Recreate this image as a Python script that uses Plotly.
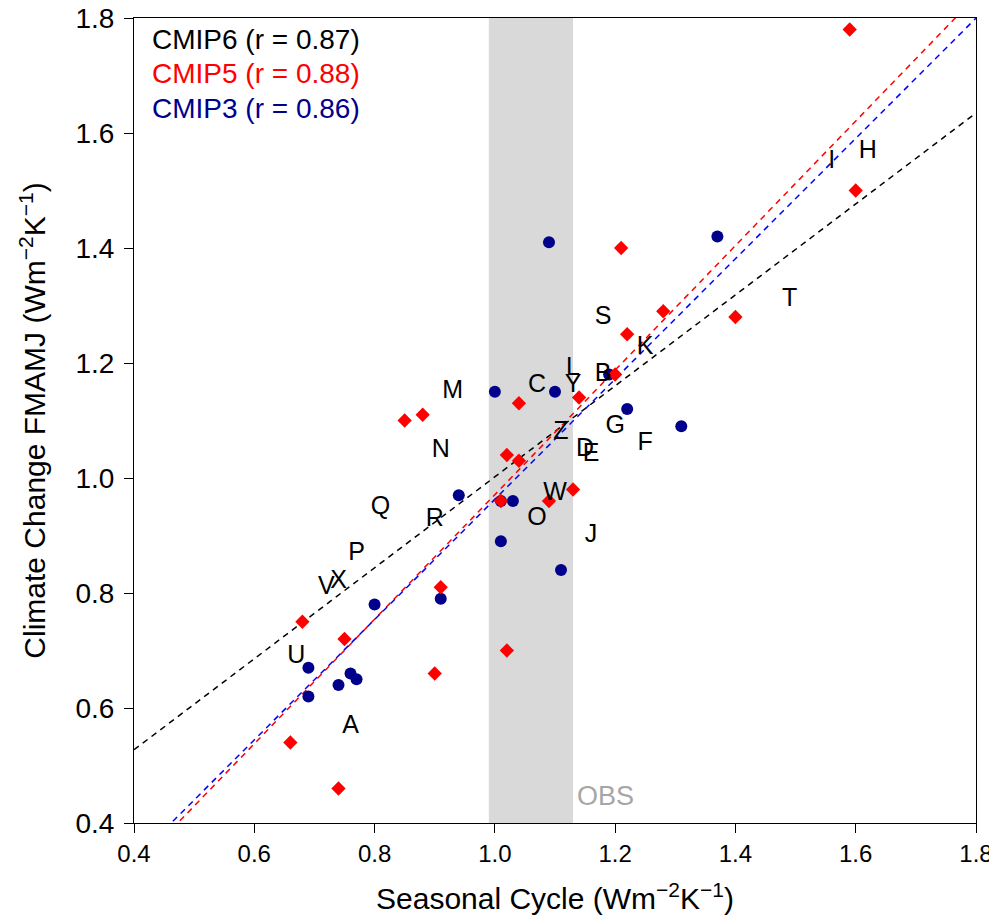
import plotly.graph_objects as go

# ---- data ----
cmip6_labels = list("ABCDEFGHIJKLMNOPQRSTUVWXYZ")
cmip6_x = [0.76, 1.18, 1.07, 1.15, 1.16, 1.25, 1.20, 1.62, 1.56, 1.16, 1.25, 1.13, 0.93,
           0.91, 1.07, 0.77, 0.81, 0.90, 1.18, 1.49, 0.67, 0.72, 1.10, 0.74, 1.13, 1.11]
cmip6_y = [0.567, 1.18, 1.16, 1.05, 1.04, 1.06, 1.09, 1.567, 1.55, 0.899, 1.226, 1.19, 1.15,
           1.048, 0.93, 0.868, 0.948, 0.928, 1.278, 1.31, 0.689, 0.809, 0.972, 0.819, 1.16, 1.078]

cmip5_x = [1.59, 1.60, 1.21, 1.28, 1.40, 1.22, 1.20, 1.14, 1.04, 0.85, 0.88, 1.02, 1.04,
           1.13, 1.09, 1.01, 0.91, 0.68, 0.75, 0.90, 1.02, 0.66, 0.74]
cmip5_y = [1.78, 1.50, 1.40, 1.29, 1.28, 1.25, 1.18, 1.14, 1.13, 1.10, 1.11, 1.04, 1.03,
           0.98, 0.96, 0.96, 0.81, 0.75, 0.72, 0.66, 0.70, 0.54, 0.46]

cmip3_x = [1.09, 1.37, 1.00, 1.10, 1.19, 1.22, 1.31, 0.94, 1.01, 1.03, 1.01, 1.11, 0.80,
           0.91, 0.69, 0.69, 0.74, 0.76, 0.77]
cmip3_y = [1.41, 1.42, 1.15, 1.15, 1.18, 1.12, 1.09, 0.97, 0.96, 0.96, 0.89, 0.84, 0.78,
           0.79, 0.67, 0.62, 0.64, 0.66, 0.65]

# regression lines (slope, intercept)
fit_names = ["CMIP6", "CMIP5", "CMIP3"]
fit_slope = [0.791, 1.083, 1.046]
fit_intercept = [0.211, -0.112, -0.083]
fit_r = [0.87, 0.88, 0.86]

obs_range = [0.99, 1.13]
x_ticks = [0.4, 0.6, 0.8, 1.0, 1.2, 1.4, 1.6, 1.8]
y_ticks = [0.4, 0.6, 0.8, 1.0, 1.2, 1.4, 1.6, 1.8]

colors = {"CMIP6": "black", "CMIP5": "#ff0000", "CMIP3": "#00008b"}
line_colors = {"CMIP6": "black", "CMIP5": "#ff0000", "CMIP3": "#0000ff"}

FONT = "Liberation Sans, Arial, sans-serif"

fig = go.Figure()

# OBS band
fig.add_shape(type="rect", xref="x", yref="paper", x0=obs_range[0], x1=obs_range[1],
              y0=0, y1=1, fillcolor="#d9d9d9", line_width=0, layer="below")

# regression lines
xl = [0.4, 1.8]
for name, s, b in zip(fit_names, fit_slope, fit_intercept):
    fig.add_trace(go.Scatter(x=xl, y=[s * v + b for v in xl], mode="lines",
                             line=dict(color=line_colors[name], width=1.5, dash="6px,5px"),
                             hoverinfo="skip", showlegend=False, cliponaxis=True))

# CMIP3 circles
fig.add_trace(go.Scatter(x=cmip3_x, y=cmip3_y, mode="markers",
                         marker=dict(symbol="circle", size=12, color=colors["CMIP3"]),
                         showlegend=False))
# CMIP5 diamonds
fig.add_trace(go.Scatter(x=cmip5_x, y=cmip5_y, mode="markers",
                         marker=dict(symbol="diamond", size=11, color=colors["CMIP5"]),
                         showlegend=False))
# CMIP6 letters
fig.add_trace(go.Scatter(x=cmip6_x, y=cmip6_y, mode="text", text=cmip6_labels,
                         textposition="middle center",
                         textfont=dict(family=FONT, size=25, color="black"),
                         showlegend=False))

# legend-like text
for i, (name, r) in enumerate(zip(fit_names, fit_r)):
    fig.add_annotation(xref="paper", yref="paper", x=0.019, y=0.973 - i * 0.0425,
                       xanchor="left", yanchor="middle", showarrow=False,
                       text=f"{name} (r = {r:.2f})",
                       font=dict(family=FONT, size=28, color=colors[name]))

fig.add_annotation(xref="x", yref="y", x=obs_range[1] + 0.004, y=0.447, xanchor="left",
                   yanchor="middle", showarrow=False, text="OBS",
                   font=dict(family=FONT, size=27, color="#a6a6a6"))

axis_common = dict(showgrid=False, zeroline=False, showline=True, linecolor="black",
                   linewidth=1, mirror=True, ticks="outside", ticklen=9,
                   tickcolor="black", tickformat=".1f", automargin=False,
                   ticklabeloverflow="allow")

fig.update_xaxes(range=[0.4, 1.8], tickvals=x_ticks,
                 tickfont=dict(family=FONT, size=24, color="black"),
                 title=dict(text="Seasonal Cycle (Wm<sup>−2</sup>K<sup>−1</sup>)",
                            font=dict(family=FONT, size=30, color="black"), standoff=22),
                 **axis_common)
fig.update_yaxes(range=[0.4, 1.8], tickvals=y_ticks, ticklabelstandoff=4,
                 tickfont=dict(family=FONT, size=28, color="black"),
                 title=dict(text="Climate Change FMAMJ (Wm<sup>−2</sup>K<sup>−1</sup>)",
                            font=dict(family=FONT, size=30, color="black"), standoff=20),
                 **axis_common)

# page body has an 8px offset, so margins are shifted to match the reference frame
fig.update_layout(width=997, height=922, plot_bgcolor="white", paper_bgcolor="white",
                  margin=dict(l=126, r=29, t=10, b=107), showlegend=False)

fig.write_html("out.html")
